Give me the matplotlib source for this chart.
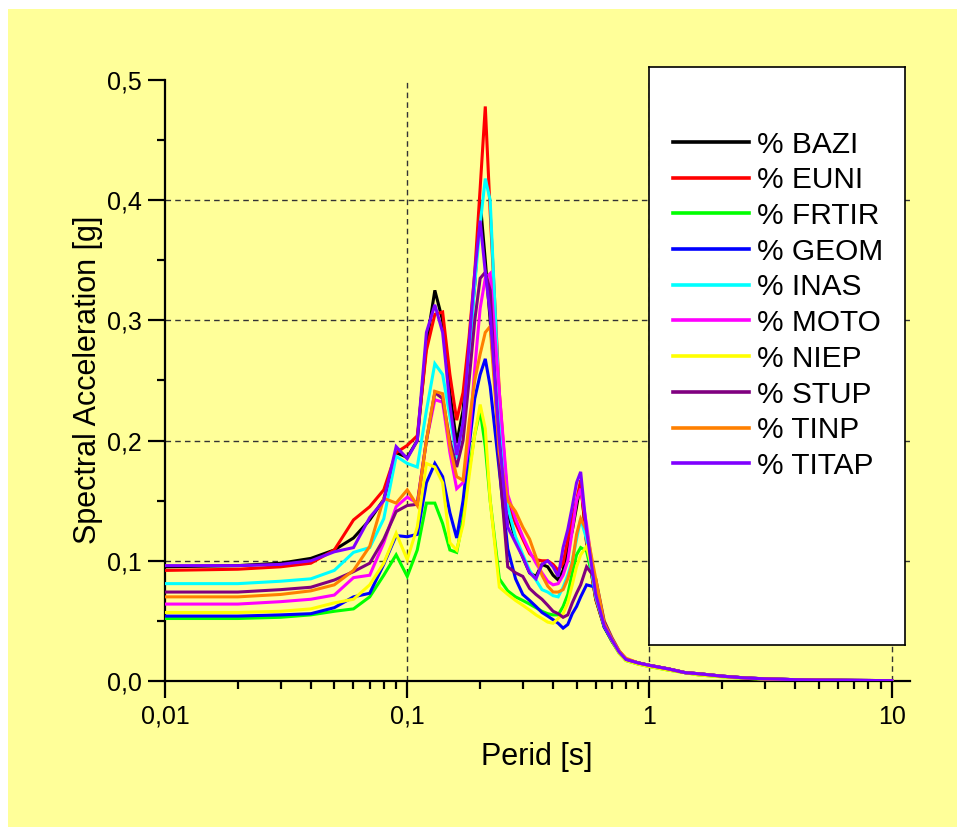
import matplotlib
matplotlib.use('Agg')
import matplotlib.pyplot as plt
from matplotlib.patches import Rectangle
from matplotlib.ticker import FixedLocator, FixedFormatter, NullFormatter, MultipleLocator, LogLocator

plt.rcParams['font.family'] = ['Liberation Sans', 'DejaVu Sans']

# ---------------- data ----------------
periods = [0.01, 0.02, 0.03, 0.04, 0.05, 0.06, 0.07, 0.08, 0.09, 0.10,
           0.11, 0.12, 0.13, 0.14, 0.15, 0.16, 0.17, 0.18, 0.19, 0.20,
           0.21, 0.22, 0.24, 0.26, 0.28, 0.30, 0.32, 0.34, 0.36, 0.38,
           0.40, 0.42, 0.44, 0.46, 0.48, 0.50, 0.52, 0.55, 0.60, 0.65,
           0.70, 0.75, 0.80, 0.90, 1.0, 1.2, 1.4, 1.6, 2.0, 2.5,
           3.0, 4.0, 5.0, 7.0, 10.0]

bazi = [0.095, 0.096, 0.098, 0.102, 0.109, 0.119, 0.134, 0.151, 0.190, 0.186,
        0.200, 0.280, 0.325, 0.300, 0.240, 0.198, 0.225, 0.280, 0.330, 0.399,
        0.350, 0.300, 0.200, 0.140, 0.118, 0.103, 0.090, 0.087, 0.097, 0.095,
        0.088, 0.084, 0.092, 0.110, 0.125, 0.145, 0.165, 0.115, 0.068, 0.045,
        0.033, 0.024, 0.018, 0.015, 0.013, 0.010, 0.007, 0.006, 0.004, 0.0025,
        0.0018, 0.0011, 0.0008, 0.0005, 0.0003]

euni = [0.092, 0.093, 0.095, 0.098, 0.109, 0.134, 0.145, 0.159, 0.190, 0.196,
        0.204, 0.275, 0.305, 0.307, 0.255, 0.217, 0.240, 0.286, 0.340, 0.410,
        0.478, 0.390, 0.240, 0.148, 0.131, 0.118, 0.106, 0.101, 0.100, 0.100,
        0.097, 0.092, 0.098, 0.118, 0.135, 0.150, 0.167, 0.115, 0.068, 0.046,
        0.034, 0.024, 0.018, 0.015, 0.013, 0.010, 0.007, 0.006, 0.004, 0.0025,
        0.0018, 0.0011, 0.0008, 0.0005, 0.0003]

frtir = [0.052, 0.052, 0.053, 0.055, 0.058, 0.060, 0.070, 0.088, 0.105, 0.087,
         0.109, 0.148, 0.148, 0.131, 0.109, 0.107, 0.135, 0.175, 0.205, 0.225,
         0.195, 0.150, 0.085, 0.075, 0.070, 0.067, 0.064, 0.061, 0.058, 0.056,
         0.055, 0.055, 0.062, 0.072, 0.090, 0.105, 0.111, 0.108, 0.075, 0.046,
         0.033, 0.023, 0.017, 0.014, 0.012, 0.009, 0.007, 0.005, 0.0035, 0.0022,
         0.0016, 0.0010, 0.0007, 0.0004, 0.0003]

geom = [0.054, 0.054, 0.055, 0.056, 0.061, 0.070, 0.073, 0.097, 0.121, 0.120,
        0.122, 0.165, 0.181, 0.170, 0.140, 0.119, 0.150, 0.195, 0.235, 0.255,
        0.268, 0.245, 0.175, 0.110, 0.085, 0.072, 0.067, 0.062, 0.057, 0.054,
        0.051, 0.048, 0.044, 0.047, 0.056, 0.062, 0.070, 0.080, 0.078, 0.045,
        0.034, 0.024, 0.018, 0.015, 0.013, 0.010, 0.007, 0.006, 0.004, 0.0025,
        0.0018, 0.0011, 0.0008, 0.0005, 0.0003]

inas = [0.081, 0.081, 0.083, 0.085, 0.092, 0.107, 0.111, 0.135, 0.187, 0.181,
        0.178, 0.225, 0.264, 0.255, 0.220, 0.185, 0.215, 0.270, 0.330, 0.380,
        0.418, 0.400, 0.230, 0.145, 0.120, 0.105, 0.092, 0.084, 0.076, 0.074,
        0.071, 0.070, 0.078, 0.088, 0.100, 0.118, 0.135, 0.118, 0.070, 0.046,
        0.034, 0.024, 0.018, 0.015, 0.013, 0.010, 0.007, 0.006, 0.004, 0.0025,
        0.0018, 0.0011, 0.0008, 0.0005, 0.0003]

moto = [0.064, 0.064, 0.066, 0.068, 0.0715, 0.086, 0.088, 0.115, 0.145, 0.153,
        0.148, 0.200, 0.234, 0.232, 0.190, 0.160, 0.165, 0.200, 0.260, 0.310,
        0.335, 0.339, 0.240, 0.155, 0.135, 0.120, 0.108, 0.098, 0.090, 0.083,
        0.080, 0.081, 0.088, 0.100, 0.125, 0.150, 0.160, 0.130, 0.075, 0.048,
        0.034, 0.024, 0.018, 0.015, 0.013, 0.010, 0.007, 0.006, 0.004, 0.0025,
        0.0018, 0.0011, 0.0008, 0.0005, 0.0003]

niep = [0.057, 0.057, 0.058, 0.060, 0.065, 0.068, 0.080, 0.098, 0.123, 0.101,
        0.128, 0.181, 0.178, 0.165, 0.115, 0.109, 0.130, 0.170, 0.205, 0.230,
        0.210, 0.150, 0.078, 0.072, 0.067, 0.063, 0.059, 0.055, 0.052, 0.049,
        0.048, 0.052, 0.056, 0.065, 0.080, 0.095, 0.105, 0.112, 0.082, 0.050,
        0.034, 0.023, 0.017, 0.014, 0.012, 0.009, 0.007, 0.005, 0.0035, 0.0022,
        0.0016, 0.0010, 0.0007, 0.0004, 0.0003]

stup = [0.074, 0.074, 0.076, 0.078, 0.084, 0.091, 0.098, 0.118, 0.141, 0.146,
        0.147, 0.200, 0.240, 0.235, 0.200, 0.178, 0.200, 0.250, 0.300, 0.335,
        0.340, 0.325, 0.180, 0.095, 0.090, 0.087, 0.077, 0.072, 0.068, 0.063,
        0.058, 0.056, 0.053, 0.055, 0.065, 0.073, 0.080, 0.095, 0.085, 0.050,
        0.036, 0.025, 0.018, 0.015, 0.013, 0.010, 0.007, 0.006, 0.004, 0.0025,
        0.0018, 0.0011, 0.0008, 0.0005, 0.0003]

tinp = [0.070, 0.070, 0.072, 0.075, 0.080, 0.092, 0.112, 0.152, 0.148, 0.159,
        0.146, 0.200, 0.241, 0.239, 0.195, 0.170, 0.167, 0.215, 0.250, 0.272,
        0.290, 0.295, 0.190, 0.150, 0.141, 0.128, 0.118, 0.103, 0.088, 0.079,
        0.074, 0.074, 0.076, 0.085, 0.098, 0.122, 0.135, 0.125, 0.085, 0.048,
        0.035, 0.025, 0.019, 0.015, 0.013, 0.010, 0.007, 0.006, 0.004, 0.0025,
        0.0018, 0.0011, 0.0008, 0.0005, 0.0003]

titap = [0.096, 0.096, 0.097, 0.100, 0.1075, 0.111, 0.136, 0.150, 0.195, 0.185,
         0.200, 0.290, 0.313, 0.290, 0.230, 0.188, 0.215, 0.280, 0.340, 0.383,
         0.340, 0.305, 0.200, 0.128, 0.115, 0.103, 0.090, 0.085, 0.097, 0.100,
         0.095, 0.087, 0.111, 0.126, 0.145, 0.165, 0.174, 0.125, 0.072, 0.046,
         0.034, 0.024, 0.018, 0.015, 0.013, 0.010, 0.007, 0.006, 0.004, 0.0025,
         0.0018, 0.0011, 0.0008, 0.0005, 0.0003]

series_names = ['% BAZI', '% EUNI', '% FRTIR', '% GEOM', '% INAS',
                '% MOTO', '% NIEP', '% STUP', '% TINP', '% TITAP']
series_values = [bazi, euni, frtir, geom, inas, moto, niep, stup, tinp, titap]
series_colors = ['#000000', '#FF0000', '#00FF00', '#0000FF', '#00FFFF',
                 '#FF00FF', '#FFFF00', '#800080', '#FF8000', '#8000FF']

x_ticks = [0.01, 0.1, 1, 10]
x_tick_labels = ['0,01', '0,1', '1', '10']
y_ticks = [0.0, 0.1, 0.2, 0.3, 0.4, 0.5]
y_tick_labels = ['0,0', '0,1', '0,2', '0,3', '0,4', '0,5']

# ---------------- figure ----------------
W, H = 957, 827
fig = plt.figure(figsize=(W / 100, H / 100), dpi=100, facecolor='white')
fig.patches.append(Rectangle((8 / W, 0), 1 - 8 / W, 1 - 9 / H, transform=fig.transFigure,
                             facecolor='#FFFF99', edgecolor='none', zorder=-10))

ax = fig.add_axes([165 / W, 1 - 681 / H, 745 / W, 601 / H])
ax.set_facecolor('none')
ax.set_xscale('log')
ax.set_xlim(0.01, 11.9)
ax.set_ylim(0, 0.5)

for sp in ['top', 'right']:
    ax.spines[sp].set_visible(False)
for sp in ['left', 'bottom']:
    ax.spines[sp].set_linewidth(1.6)

# grid (manual dashed lines)
for gy in y_ticks[1:-1]:
    ax.axhline(gy, color='#333333', lw=1.0, ls=(0, (4, 3)), zorder=1)
for gx in x_ticks[1:]:
    ax.axvline(gx, color='#333333', lw=1.0, ls=(0, (4, 3)), zorder=1)

for vals, col in zip(series_values, series_colors):
    ax.plot(periods, vals, color=col, lw=2.2, zorder=3, solid_joinstyle='miter')

ax.xaxis.set_major_locator(FixedLocator(x_ticks))
ax.xaxis.set_major_formatter(FixedFormatter(x_tick_labels))
ax.xaxis.set_minor_locator(LogLocator(base=10, subs=[2, 3, 4, 5, 6, 7, 8, 9]))
ax.xaxis.set_minor_formatter(NullFormatter())
ax.yaxis.set_major_locator(FixedLocator(y_ticks))
ax.yaxis.set_major_formatter(FixedFormatter(y_tick_labels))
ax.yaxis.set_minor_locator(MultipleLocator(0.05))

ax.tick_params(which='major', direction='out', length=12, width=1.6, labelsize=18, pad=5)
ax.tick_params(which='minor', direction='out', length=6, width=1.6)

fig.text(537 / W, 1 - 757 / H, 'Perid [s]', ha='center', va='center', fontsize=22)
fig.text(88 / W, 1 - 380 / H, 'Spectral Acceleration [g]', ha='center', va='center',
         rotation=90, fontsize=22)

# ---------------- legend ----------------
lax = fig.add_axes([649 / W, 1 - 645 / H, 256 / W, 578 / H])
lax.set_xlim(649, 905)
lax.set_ylim(645, 67)
lax.set_facecolor('white')
lax.set_xticks([])
lax.set_yticks([])
for sp in lax.spines.values():
    sp.set_linewidth(1.2)
for i, (name, col) in enumerate(zip(series_names, series_colors)):
    yy = 142 + 35.7 * i
    lax.plot([673, 749], [yy, yy], color=col, lw=2.6)
    lax.text(757, yy + 10.7, name, ha='left', va='baseline', fontsize=21.5)

fig.savefig('out.png', dpi=100, facecolor='white')
